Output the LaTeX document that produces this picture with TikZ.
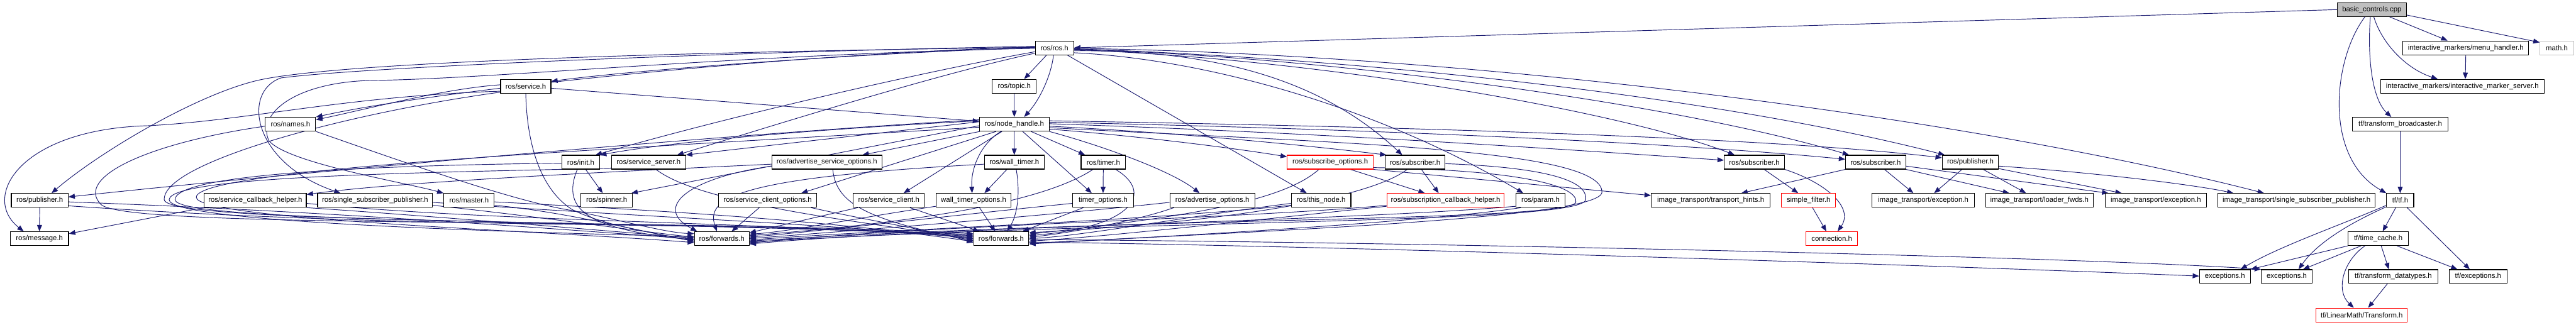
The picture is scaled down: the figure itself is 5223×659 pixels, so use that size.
\documentclass[tikz,border=0pt]{standalone}
\usepackage{fontspec}
\setmainfont{Liberation Sans}
\usetikzlibrary{arrows.meta}
\definecolor{mblue}{RGB}{25,25,112}
\definecolor{gfill}{RGB}{191,191,191}
\pgfdeclarelayer{bg}
\pgfsetlayers{bg,main}
\begin{document}
\begin{tikzpicture}[x=1pt,y=-1pt,
  box/.style={draw=black,line width=1.4pt,fill=white,minimum height=28pt,inner sep=0pt,font=\fontsize{14.5}{17}\selectfont},
  redbox/.style={box,draw=red},
  dep/.style={draw=mblue,line width=1.2pt,-{Triangle[length=13pt,width=10pt]}}]
\useasboundingbox (0,0) rectangle (5223,659);
% rank 0-1
\node[box,fill=gfill,minimum width=140pt] (bc) at (4809,19.5) {basic\_controls.cpp};
\node[box,minimum width=78pt] (ros) at (2138,97) {ros/ros.h};
\node[box,minimum width=255pt] (mh) at (4999.5,97) {interactive\_markers/menu\_handler.h};
\node[box,draw=gfill,minimum width=68pt] (math) at (5184,97) {math.h};
% rank 2
\node[box,minimum width=102pt] (service) at (1066,175) {ros/service.h};
\node[box,minimum width=89pt] (topic) at (2056.5,175) {ros/topic.h};
\node[box,minimum width=331pt] (ims) at (4992.5,175) {interactive\_markers/interactive\_marker\_server.h};
% rank 3
\node[box,minimum width=102pt] (names) at (589,252) {ros/names.h};
\node[box,minimum width=141pt] (nh) at (2056.5,252) {ros/node\_handle.h};
\node[box,minimum width=193pt] (tb) at (4866.5,252) {tf/transform\_broadcaster.h};
% rank 4
\node[box,minimum width=77pt] (init) at (1177.5,329) {ros/init.h};
\node[box,minimum width=150pt] (ss) at (1315,329) {ros/service\_server.h};
\node[box,minimum width=223pt] (aso) at (1676.5,329) {ros/advertise\_service\_options.h};
\node[box,minimum width=121pt] (wt) at (2056.5,329) {ros/wall\_timer.h};
\node[box,minimum width=90pt] (timer) at (2237,329) {ros/timer.h};
\node[redbox,minimum width=174pt] (subo) at (2697,329) {ros/subscribe\_options.h};
\node[box,minimum width=122pt] (sub1) at (2869,329) {ros/subscriber.h};
\node[box,minimum width=122pt] (sub2) at (3557,329) {ros/subscriber.h};
\node[box,minimum width=122pt] (sub3) at (3803,329) {ros/subscriber.h};
\node[box,minimum width=114pt] (pubR) at (3995,329) {ros/publisher.h};
% rank 5
\node[box,minimum width=115pt] (pubL) at (80.5,406.5) {ros/publisher.h};
\node[box,minimum width=207pt] (sch) at (517.5,406.5) {ros/service\_callback\_helper.h};
\node[box,minimum width=233pt] (ssp) at (760.5,406.5) {ros/single\_subscriber\_publisher.h};
\node[box,minimum width=102pt] (master) at (951,406.5) {ros/master.h};
\node[box,minimum width=104pt] (spinner) at (1230,406.5) {ros/spinner.h};
\node[box,minimum width=199pt] (sco) at (1556.5,406.5) {ros/service\_client\_options.h};
\node[box,minimum width=144pt] (sc) at (1802,406.5) {ros/service\_client.h};
\node[box,minimum width=152pt] (wto) at (1974,406.5) {wall\_timer\_options.h};
\node[box,minimum width=123pt] (tmo) at (2236.5,406.5) {timer\_options.h};
\node[box,minimum width=172pt] (ao) at (2458,406.5) {ros/advertise\_options.h};
\node[box,minimum width=121pt] (thisn) at (2678.5,406.5) {ros/this\_node.h};
\node[redbox,minimum width=238pt] (sch2) at (2931,406.5) {ros/subscription\_callback\_helper.h};
\node[box,minimum width=100pt] (param) at (3123.5,406.5) {ros/param.h};
\node[box,minimum width=241pt] (th) at (3468.5,406.5) {image\_transport/transport\_hints.h};
\node[redbox,minimum width=110pt] (sf) at (3667,406.5) {simple\_filter.h};
\node[box,minimum width=207pt] (ite1) at (3899.5,406.5) {image\_transport/exception.h};
\node[box,minimum width=218pt] (ilf) at (4135,406.5) {image\_transport/loader\_fwds.h};
\node[box,minimum width=206pt] (ite2) at (4371,406.5) {image\_transport/exception.h};
\node[box,minimum width=319pt] (itssp) at (4656.5,406.5) {image\_transport/single\_subscriber\_publisher.h};
\node[box,minimum width=55pt] (tf) at (4866.5,406.5) {tf/tf.h};
% rank 6
\node[box,minimum width=118pt] (msg) at (80,484) {ros/message.h};
\node[box,minimum width=111pt] (fw1) at (1463.5,484) {ros/forwards.h};
\node[box,minimum width=112pt] (fw2) at (2030,484) {ros/forwards.h};
\node[redbox,minimum width=104pt] (conn) at (3714,484) {connection.h};
\node[box,minimum width=122pt] (tc) at (4822,484) {tf/time\_cache.h};
% rank 7-8
\node[box,minimum width=103pt] (ex1) at (4511,561) {exceptions.h};
\node[box,minimum width=103pt] (ex2) at (4636.5,561) {exceptions.h};
\node[box,minimum width=181pt] (tdt) at (4852.5,561) {tf/transform\_datatypes.h};
\node[box,minimum width=117pt] (tfex) at (5024.5,561) {tf/exceptions.h};
\node[redbox,minimum width=185pt] (lmt) at (4788.5,639) {tf/LinearMath/Transform.h};

\begin{pgfonlayer}{bg}
\fill[white] (0,0) rectangle (5223,659);
% basic_controls group
\draw[dep] (bc.west) -- (ros.east);
\draw[dep] ([xshift=36]bc.south) -- ([xshift=-37]mh.north);
\draw[dep] ([yshift=-11]bc.east) -- ([yshift=11]math.west);
\draw[dep] ([xshift=4]bc.south) .. controls (4830,90) and (4880,140) .. ([xshift=-50]ims.north);
\draw[dep] ([xshift=-3]bc.south) .. controls (4800,110) and (4808,200) .. ([xshift=-18]tb.north);
\draw[dep] ([xshift=-14]bc.south) .. controls (4730,120) and (4710,320) .. (tf.north west);
\draw[dep] (mh.south) -- ([xshift=6]ims.north);
\draw[dep] (tb.south) -- (tf.north);
\draw[dep] ([yshift=-10]tf.west) .. controls (4750,455) and (4620,500) .. ([xshift=32]ex1.north);
\draw[dep] ([yshift=-13]tf.west) .. controls (4770,450) and (4700,490) .. ([xshift=24]ex2.north);
\draw[dep] ([xshift=-9]tf.south) -- ([xshift=9]tc.north);
\draw[dep] ([xshift=14]tf.south) -- ([xshift=-17]tfex.north);
\draw[dep] (tc.south west) -- (ex1.north east);
\draw[dep] ([xshift=-35]tc.south) -- ([xshift=33]ex2.north);
\draw[dep] ([xshift=-27]tc.south) .. controls (4750,530) and (4735,590) .. ([xshift=-16]lmt.north);
\draw[dep] ([xshift=6]tc.south) -- ([xshift=-9]tdt.north);
\draw[dep] ([xshift=38]tc.south) -- ([xshift=-42]tfex.north);
\draw[dep] ([xshift=-12]tdt.south) -- ([xshift=13]lmt.north);
% subscriber / publisher group
\draw[dep] ([xshift=20]sub2.south) -- ([xshift=-21]sf.north);
\draw[dep] (sub2.south east) .. controls (3700,370) and (3760,420) .. ([xshift=12]conn.north);
\draw[dep] ([xshift=8]sf.south) -- ([xshift=-11]conn.north);
\draw[dep] (sub3.south west) -- ([xshift=62]th.north);
\draw[dep] ([xshift=18]sub3.south) -- ([xshift=-20]ite1.north);
\draw[dep] (sub3.south east) -- ([xshift=-61]ilf.north);
\draw[dep] ([yshift=-8]sub3.east) -- ([xshift=-96]ite2.north);
\draw[dep] ([xshift=-17]pubR.south) -- ([xshift=22]ite1.north);
\draw[dep] ([xshift=26]pubR.south) -- ([xshift=-27]ilf.north);
\draw[dep] ([yshift=-13]pubR.east) -- ([xshift=-69]ite2.north);
\draw[dep] ([yshift=-8]pubR.east) .. controls (4250,350) and (4450,375) .. ([xshift=-128]itssp.north);
\draw[dep] (subo.south east) -- ([yshift=10]th.west);
\draw[dep] ([xshift=41]subo.south) -- ([xshift=-42]sch2.north);
\draw[dep] ([xshift=13]sub1.south) -- ([xshift=-14]sch2.north);
% ros.h
\draw[dep] (ros.west) .. controls (1800,105) and (1300,140) .. ([yshift=10]service.east);
\draw[dep] ([yshift=2]ros.west) .. controls (1600,110) and (900,180) .. (names.north east);
\draw[dep] ([yshift=1]ros.west) .. controls (1400,105) and (700,125) .. (527,162) .. controls (400,190) and (200,310) .. ([xshift=24]pubL.north);
\draw[dep] ([yshift=3]ros.west) .. controls (1500,105) and (750,135) .. (570,158) .. controls (490,185) and (510,330) .. ([xshift=-70]ssp.north);
\draw[dep] ([yshift=-1]ros.west) .. controls (1500,110) and (1000,160) .. (760,163) .. controls (600,165) and (520,230) .. (545,285) .. controls (580,330) and (820,370) .. (master.north west);
\draw[dep] ([yshift=-8]ros.west) .. controls (1900,140) and (1500,230) .. ([xshift=30]init.north);
\draw[dep] ([yshift=-11]ros.west) .. controls (1900,150) and (1550,260) .. ([xshift=58]ss.north);
\draw[dep] ([xshift=-16]ros.south) -- ([xshift=20]topic.north);
\draw[dep] ([xshift=-2]ros.south) .. controls (2132,150) and (2110,200) .. ([xshift=20]nh.north);
\draw[dep] ([xshift=26]ros.south) -- ([xshift=-29]thisn.north);
\draw[dep] ([yshift=-6]ros.east) .. controls (2500,100) and (2700,180) .. ([xshift=-26]sub1.north);
\draw[dep] ([yshift=-10]ros.east) .. controls (2450,120) and (2800,220) .. ([xshift=-35]param.north);
\draw[dep] ([yshift=-4]ros.east) .. controls (2700,120) and (3300,230) .. ([xshift=-40]sub2.north);
\draw[dep] ([yshift=-3]ros.east) .. controls (2700,115) and (3400,210) .. ([xshift=-54]sub3.north);
\draw[dep] ([yshift=-2]ros.east) .. controls (2800,120) and (3500,200) .. ([xshift=-52]pubR.north);
\draw[dep] ([yshift=-1]ros.east) .. controls (3000,110) and (4000,240) .. ([xshift=-66]itssp.north);
% service.h, topic.h
\draw[dep] (topic.south) -- (nh.north);
\draw[dep] ([yshift=-4]service.east) -- ([yshift=6]nh.west);
\draw[dep] ([yshift=3]service.west) .. controls (900,180) and (750,220) .. ([yshift=9]names.east);
\draw[dep] ([yshift=-10]service.west) .. controls (700,195) and (500,245) .. (300,255) .. controls (40,262) and (-40,400) .. ([xshift=-32]msg.north);
\draw[dep] (service.south) .. controls (1068,280) and (1090,380) .. (1160,425) .. controls (1230,460) and (1330,472) .. ([yshift=-6]fw1.west);
\draw[dep] ([yshift=-12]service.west) .. controls (700,230) and (330,330) .. (333,405) .. controls (336,455) and (1300,445) .. ([yshift=8]fw2.west);
% names.h
\draw[dep] (names.south east) .. controls (850,340) and (1050,410) .. (1160,427) .. controls (1260,447) and (1350,472) .. ([yshift=10]fw1.west);
\draw[dep] ([yshift=-4]names.west) .. controls (300,290) and (150,360) .. (205,415) .. controls (260,465) and (1300,440) .. ([yshift=10]fw2.west);
% node_handle.h
\draw[dep] ([xshift=-70]nh.south) -- ([xshift=72]aso.north);
\draw[dep] ([yshift=-3]nh.west) -- ([xshift=50]spinner.north);
\draw[dep] ([yshift=5]nh.west) -- (ss.north east);
\draw[dep] ([yshift=7]nh.west) .. controls (1600,265) and (1350,290) .. (init.north east);
\draw[dep] ([yshift=9]nh.west) .. controls (1500,270) and (600,350) .. ([yshift=7]pubL.east);
\draw[dep] ([xshift=-37]nh.south) -- ([xshift=68]sco.north);
\draw[dep] ([xshift=-25]nh.south) -- ([xshift=30]sc.north);
\draw[dep] ([xshift=-27]nh.south) .. controls (1990,290) and (1968,340) .. ([xshift=-3]wto.north);
\draw[dep] (nh.south) -- (wt.north);
\draw[dep] ([xshift=17]nh.south) -- ([xshift=-23]tmo.north);
\draw[dep] ([xshift=34]nh.south) -- ([xshift=-37]timer.north);
\draw[dep] (nh.south east) .. controls (2250,300) and (2380,350) .. ([xshift=-26]ao.north);
\draw[dep] ([yshift=-10]nh.east) .. controls (2300,275) and (2500,300) .. ([yshift=11]subo.west);
\draw[dep] ([yshift=-4]nh.east) .. controls (2400,270) and (2650,295) .. ([xshift=-58]sub1.north);
\draw[dep] ([yshift=1]nh.east) .. controls (2700,270) and (3200,305) .. ([yshift=4]sub2.west);
\draw[dep] ([yshift=4]nh.east) .. controls (2800,262) and (3400,290) .. ([yshift=6]sub3.west);
\draw[dep] ([yshift=7]nh.east) .. controls (2900,258) and (3600,280) .. ([yshift=9]pubR.west);
\draw[dep] ([yshift=-7]nh.east) .. controls (2700,290) and (3250,300) .. (3248,390) .. controls (3246,445) and (2500,470) .. ([yshift=-11]fw2.east);
\draw[dep] ([yshift=-6]nh.west) .. controls (1300,300) and (400,340) .. (398,400) .. controls (396,445) and (1100,468) .. ([yshift=-8]fw1.west);
% rank 4 sources
\draw[dep] ([xshift=-15]wt.south) -- ([xshift=22]wto.north);
\draw[dep] (timer.south) -- (tmo.north);
\draw[dep] ([xshift=10]init.south) -- ([xshift=-8]spinner.north);
\draw[dep] ([yshift=-4]aso.west) .. controls (1200,350) and (800,370) .. ([yshift=12]sch.east);
\draw[dep] ([xshift=-7]init.south) .. controls (1135,430) and (1200,465) .. ([yshift=-3]fw1.west);
\draw[dep] ([yshift=-2]init.west) .. controls (800,335) and (355,350) .. (355,405) .. controls (355,455) and (1300,445) .. ([yshift=6]fw2.west);
\draw[dep] ([xshift=15]ss.south) .. controls (1430,420) and (1800,455) .. ([yshift=-2]fw2.west);
\draw[dep] ([yshift=-12]ss.west) .. controls (900,350) and (345,355) .. (343,405) .. controls (341,450) and (1000,470) .. ([yshift=4]fw1.west);
\draw[dep] ([yshift=-8]aso.west) .. controls (1400,360) and (1320,420) .. ([xshift=-50]fw1.north);
\draw[dep] ([xshift=12]aso.south) .. controls (1695,410) and (1750,445) .. ([yshift=-4]fw2.west);
\draw[dep] ([yshift=-4]wt.west) .. controls (1500,360) and (1430,400) .. ([xshift=-10]fw1.north);
\draw[dep] ([xshift=4]wt.south) .. controls (2070,400) and (2060,440) .. ([xshift=12]fw2.north);
\draw[dep] ([xshift=-21]timer.south) .. controls (2100,420) and (1800,455) .. ([yshift=6]fw1.east);
\draw[dep] ([xshift=25]timer.south) .. controls (2340,390) and (2300,460) .. ([yshift=6]fw2.east);
% rank 5 sources
\draw[dep] (pubL.south) -- (msg.north);
\draw[dep] ([yshift=-3]pubL.east) .. controls (700,430) and (1200,470) .. ([yshift=-1]fw1.west);
\draw[dep] ([yshift=-11]pubL.east) .. controls (900,470) and (1500,445) .. ([yshift=4]fw2.west);
\draw[dep] (sch.south west) -- ([yshift=10]msg.east);
\draw[dep] (sch.south east) .. controls (900,440) and (1250,470) .. ([yshift=1]fw1.west);
\draw[dep] ([yshift=-6]sch.east) .. controls (1000,450) and (1500,448) .. ([yshift=2]fw2.west);
\draw[dep] ([yshift=-10]ssp.east) .. controls (1100,440) and (1300,470) .. ([yshift=3]fw1.west);
\draw[dep] ([yshift=-4]ssp.east) .. controls (1300,440) and (1700,455) .. ([yshift=0]fw2.west);
\draw[dep] ([yshift=-10]master.east) .. controls (1150,430) and (1300,470) .. ([yshift=-5]fw1.west);
\draw[dep] ([yshift=-3]master.east) .. controls (1400,430) and (1700,450) .. ([yshift=-6]fw2.west);
\draw[dep] ([xshift=-17]sco.south) -- ([xshift=20]fw1.north);
\draw[dep] ([xshift=88]sco.south) .. controls (1750,445) and (1900,470) .. ([yshift=-8]fw2.west);
\draw[dep] ([xshift=-63]sc.south) -- ([yshift=12]fw1.east);
\draw[dep] ([xshift=43]sc.south) -- ([xshift=-44]fw2.north);
\draw[dep] ([yshift=-12]wto.west) .. controls (1750,440) and (1600,470) .. ([yshift=9]fw1.east);
\draw[dep] ([xshift=12]wto.south) -- ([xshift=-12]fw2.north);
\draw[dep] ([yshift=-6]tmo.west) .. controls (1900,440) and (1700,465) .. ([yshift=3]fw1.east);
\draw[dep] ([xshift=-40]tmo.south) -- ([xshift=43]fw2.north);
\draw[dep] ([yshift=-4]ao.west) .. controls (2100,440) and (1700,470) .. ([yshift=0]fw1.east);
\draw[dep] ([xshift=-78]ao.south) .. controls (2300,450) and (2150,475) .. ([yshift=3]fw2.east);
\draw[dep] ([yshift=-10]thisn.west) .. controls (2300,450) and (1800,465) .. ([yshift=-3]fw1.east);
\draw[dep] ([yshift=-6]thisn.west) .. controls (2400,440) and (2200,478) .. ([yshift=0]fw2.east);
\draw[dep] ([xshift=-23]subo.south) .. controls (2600,410) and (2400,440) .. ([yshift=9]fw2.east);
\draw[dep] ([yshift=-11]subo.east) .. controls (3100,345) and (3200,380) .. (3195,410) .. controls (3190,450) and (2300,440) .. ([yshift=-5]fw1.east);
\draw[dep] ([xshift=-16]sub1.south) .. controls (2780,400) and (2500,450) .. ([yshift=12]fw2.east);
\draw[dep] ([yshift=-3]sub1.east) .. controls (3150,340) and (3220,370) .. (3215,405) .. controls (3210,455) and (2300,445) .. ([yshift=-7]fw1.east);
\draw[dep] ([yshift=-10]sch2.west) .. controls (2500,445) and (1900,455) .. ([yshift=-9]fw1.east);
\draw[dep] ([yshift=-12]sch2.west) .. controls (2600,440) and (2250,480) .. ([yshift=-5]fw2.east);
\draw[dep] ([yshift=-12]param.west) .. controls (2700,450) and (1900,460) .. ([yshift=-11]fw1.east);
\draw[dep] ([xshift=-40]param.south) .. controls (2900,450) and (2300,485) .. ([yshift=-9]fw2.east);
% forwards -> exceptions
\draw[dep] ([yshift=-2]fw2.east) .. controls (2800,490) and (4200,520) .. (ex2.north west);
\draw[dep] ([yshift=-7]fw2.east) .. controls (2800,500) and (4100,545) .. ([yshift=1]ex1.west);
\end{pgfonlayer}
\end{tikzpicture}
\end{document}
